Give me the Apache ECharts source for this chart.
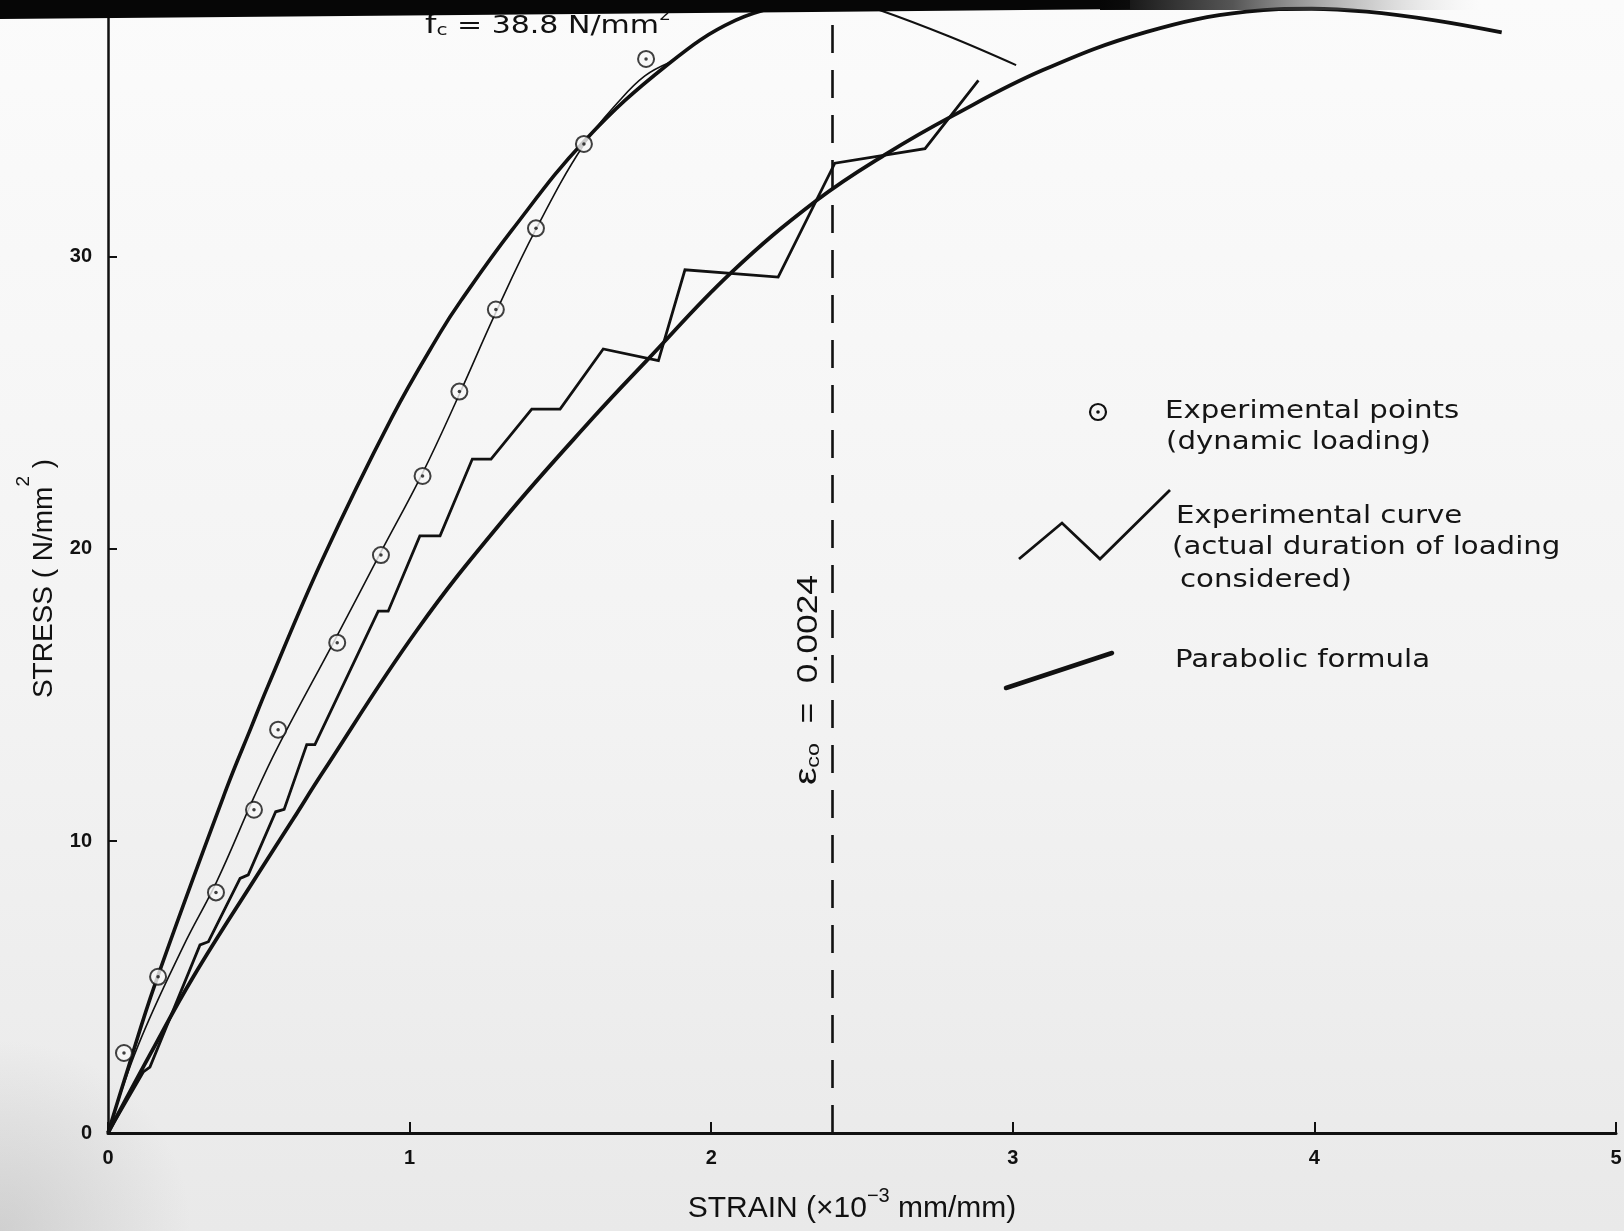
<!DOCTYPE html>
<html>
<head>
<meta charset="utf-8">
<script src="https://cdn.jsdelivr.net/npm/echarts@6/dist/echarts.min.js"></script>
<style>
html,body{margin:0;padding:0;background:#f3f3f3;}
#chart{width:1624px;height:1231px;}
</style>
</head>
<body>
<div id="chart"></div>
<script>
// ---- axis ticks / constants ----
const strainTicks = [0, 1, 2, 3, 4, 5];          // strain x 10^-3
const stressTicks = [0, 10, 20, 30];             // N/mm^2
const strainMax = 5;
const stressMax = 38.8;                          // f_c
const epsCo = 2.4;                               // 0.0024

// ---- experimental points (dynamic loading) ----
const expPoints = [[0.053,2.74],[0.166,5.35],[0.358,8.24],[0.484,11.07],[0.564,13.81],[0.760,16.79],[0.905,19.79],[1.043,22.50],[1.165,25.39],[1.286,28.20],[1.419,30.98],[1.578,33.87],[1.784,36.78]];

// ---- thin curve drawn through the experimental points ----
const expFitCurve = [[0,0],[0.1,3.0],[0.25,6.4],[0.36,8.6],[0.484,11.5],[0.562,13.2],[0.758,17.0],[0.905,19.9],[1.043,22.6],[1.165,25.3],[1.286,28.1],[1.419,30.95],[1.578,33.85],[1.70,35.4],[1.78,36.2],[1.86,36.65]];

// ---- experimental curve (actual duration of loading considered) ----
const expCurve = [[0,0],[0.117,2.09],[0.139,2.26],[0.305,6.44],[0.333,6.55],[0.438,8.72],[0.465,8.84],[0.556,11.0],[0.584,11.08],[0.659,13.30],[0.686,13.30],[0.896,17.87],[0.929,17.87],[1.034,20.45],[1.101,20.45],[1.208,23.08],[1.27,23.08],[1.405,24.79],[1.499,24.79],[1.642,26.85],[1.825,26.45],[1.913,29.56],[2.222,29.31],[2.410,33.21],[2.709,33.71],[2.886,36.05]];

// ---- parabolic formula curves ----
const parabolaUpper = [[0,0],[0.06,2.0],[0.156,5.1],[0.393,11.8],[0.475,13.9],[0.526,15.2],[0.709,19.6],[0.941,24.5],[1.101,27.4],[1.17,28.5],[1.338,30.9],[1.582,34.0],[1.857,36.6],[2.08,38.1],[2.3,38.75]];
const parabolaUpperTail = [[2.3,38.75],[2.45,38.78],[2.56,38.45],[2.79,37.55],[3.011,36.57]];
const parabolaLower = [[0,0],[0.14,2.7],[0.283,5.35],[0.493,8.8],[0.614,10.75],[0.709,12.3],[1.023,17.2],[1.311,21.0],[1.609,24.5],[1.786,26.45],[2.062,29.42],[2.35,31.94],[2.582,33.54],[2.803,34.85],[3.1,36.4],[3.444,37.71],[3.775,38.4],[3.99,38.5],[4.173,38.4],[4.394,38.11],[4.621,37.69]];

const INK = '#111111';
const chart = echarts.init(document.getElementById('chart'), null, {renderer: 'canvas'});

const legendFont = {fontFamily: '"DejaVu Sans", sans-serif', fontSize: 25, fill: '#151515'};
function legendText(txt, x, y) {
  return {type: 'text', x: x, y: y, scaleX: 1.17, z: 50, silent: true,
    style: Object.assign({text: txt, textAlign: 'left', textVerticalAlign: 'middle'}, legendFont)};
}
const LIB = '"Liberation Sans", Arial, sans-serif';

const option = {
  animation: false,
  backgroundColor: '#f3f3f3',
  grid: {left: 108, right: 8, top: 0, bottom: 98, containLabel: false, outerBoundsMode: 'none'},
  xAxis: {
    type: 'value', min: 0, max: strainMax, interval: 1,
    axisLine: {show: true, onZero: false, lineStyle: {color: INK, width: 3}},
    axisTick: {show: true, inside: true, length: 11, lineStyle: {color: INK, width: 2}, customValues: strainTicks},
    axisLabel: {show: true, margin: 15, fontSize: 20, fontWeight: 'bold', fontFamily: LIB, color: INK, customValues: strainTicks},
    splitLine: {show: false},
    name: '{a|STRAIN (×10}{s|−3}{a| mm/mm)}',
    nameLocation: 'middle', nameGap: 53,
    nameTextStyle: {padding: [0, 20, 0, 0], rich: {
      a: {fontSize: 30, fontFamily: LIB, color: INK, lineHeight: 38, verticalAlign: 'bottom'},
      s: {fontSize: 20, fontFamily: LIB, color: INK, lineHeight: 20, verticalAlign: 'top'}
    }}
  },
  yAxis: {
    type: 'value', min: 0, max: stressMax, interval: 10,
    axisLine: {show: true, onZero: false, lineStyle: {color: INK, width: 2.5}},
    axisTick: {show: true, inside: true, length: 9, lineStyle: {color: INK, width: 2}, customValues: stressTicks},
    axisLabel: {show: true, margin: 16, fontSize: 20, fontWeight: 'bold', fontFamily: LIB, color: INK, customValues: stressTicks,
      formatter: v => (stressTicks.indexOf(v) >= 0 ? String(v) : '')},
    splitLine: {show: false},
    name: '{a|STRESS ( N/mm}{s|2}{a| )}',
    nameLocation: 'middle', nameRotate: 90, nameGap: 50,
    nameTextStyle: {padding: [0, 24, 0, 0], rich: {
      a: {fontSize: 28, fontFamily: LIB, color: INK, lineHeight: 44, verticalAlign: 'bottom'},
      s: {fontSize: 19, fontFamily: LIB, color: INK, lineHeight: 19, verticalAlign: 'top'}
    }}
  },
  series: [
    {name: 'Parabolic formula (upper)', type: 'line', data: parabolaUpper, showSymbol: false, smooth: 0.4,
      lineStyle: {color: INK, width: 3.6}, z: 3, silent: true},
    {name: 'Parabolic formula (upper, descending)', type: 'line', data: parabolaUpperTail, showSymbol: false, smooth: 0.4,
      lineStyle: {color: INK, width: 2}, z: 3, silent: true},
    {name: 'Parabolic formula', type: 'line', data: parabolaLower, showSymbol: false, smooth: 0.4,
      lineStyle: {color: INK, width: 3.8}, z: 3, silent: true,
      markLine: {silent: true, symbol: ['none', 'none'], label: {show: false},
        lineStyle: {color: INK, width: 2.6, type: [28, 17]},
        data: [{xAxis: epsCo}]}},
    {name: 'Experimental curve', type: 'line', data: expCurve, showSymbol: false, smooth: false,
      lineStyle: {color: INK, width: 2.8, join: 'miter'}, z: 4, silent: true},
    {name: 'Experimental points fit', type: 'line', data: expFitCurve, showSymbol: false, smooth: 0.4,
      lineStyle: {color: INK, width: 1.6}, z: 4, silent: true},
    {name: 'Experimental points', type: 'scatter', data: expPoints, symbol: 'circle', symbolSize: 16,
      itemStyle: {color: '#f8f8f8', borderColor: INK, borderWidth: 2}, z: 6, silent: true},
    {name: 'Experimental points (centre)', type: 'scatter', data: expPoints, symbol: 'circle', symbolSize: 3.5,
      itemStyle: {color: INK}, z: 7, silent: true}
  ],
  graphic: {elements: [
    // paper background
    {type: 'rect', z: -100, silent: true, shape: {x: 0, y: 0, width: 1624, height: 1231},
      style: {fill: {type: 'linear', x: 0, y: 0, x2: 0, y2: 1, colorStops: [
        {offset: 0, color: '#fbfbfb'}, {offset: 0.55, color: '#f3f3f3'}, {offset: 1, color: '#e9e9e9'}]}}},
    {type: 'rect', z: -99, silent: true, shape: {x: 0, y: 1040, width: 260, height: 191},
      style: {fill: {type: 'radial', x: 0, y: 1, r: 1, colorStops: [
        {offset: 0, color: 'rgba(160,160,160,0.35)'}, {offset: 1, color: 'rgba(160,160,160,0)'}]}}},
    // annotation f_c
    {type: 'text', x: 425, y: 24, scaleX: 1.25, z: 40, silent: true,
      style: {text: '{f|f}{c|c}{t| = 38.8 N/mm}{s|2}', textAlign: 'left', textVerticalAlign: 'middle',
        rich: {
          f: {fontSize: 26, fontFamily: '"DejaVu Sans", sans-serif', fill: INK, lineHeight: 30, verticalAlign: 'bottom'},
          c: {fontSize: 16, fontFamily: '"DejaVu Sans", sans-serif', fill: INK, lineHeight: 16, verticalAlign: 'bottom'},
          t: {fontSize: 24, fontFamily: '"DejaVu Sans", sans-serif', fill: INK, lineHeight: 30, verticalAlign: 'bottom'},
          s: {fontSize: 15, fontFamily: '"DejaVu Sans", sans-serif', fill: INK, lineHeight: 15, verticalAlign: 'top'}
        }}},
    // epsilon_co label along the dashed line
    {type: 'text', x: 806, y: 680, rotation: Math.PI / 2, scaleX: 1.22, z: 40, silent: true,
      style: {text: '{e|ε}{c|co}{t|  =  0.0024}', textAlign: 'center', textVerticalAlign: 'middle',
        rich: {
          e: {fontSize: 32, fontFamily: LIB, fill: INK, lineHeight: 34, verticalAlign: 'bottom'},
          c: {fontSize: 19, fontFamily: LIB, fill: INK, lineHeight: 19, verticalAlign: 'bottom'},
          t: {fontSize: 29, fontFamily: LIB, fill: INK, lineHeight: 34, verticalAlign: 'bottom'}
        }}},
    // legend: experimental points
    {type: 'circle', z: 50, silent: true, shape: {cx: 1098, cy: 412, r: 8}, style: {fill: 'none', stroke: INK, lineWidth: 2.2}},
    {type: 'circle', z: 50, silent: true, shape: {cx: 1098, cy: 412, r: 1.8}, style: {fill: INK}},
    legendText('Experimental points', 1165, 411),
    legendText('(dynamic loading)', 1166, 442),
    // legend: experimental curve
    {type: 'polyline', z: 50, silent: true, shape: {points: [[1019, 559], [1062, 523], [1100, 559], [1170, 490]]},
      style: {fill: 'none', stroke: INK, lineWidth: 2.8, lineJoin: 'miter'}},
    legendText('Experimental curve', 1176, 516),
    legendText('(actual duration of loading', 1172, 547),
    legendText('considered)', 1180, 580),
    // legend: parabolic formula
    {type: 'line', z: 50, silent: true, shape: {x1: 1006, y1: 688, x2: 1112, y2: 653},
      style: {stroke: INK, lineWidth: 4.5, lineCap: 'round'}},
    legendText('Parabolic formula', 1175, 660),
    // dark scan band along the top edge
    {type: 'polygon', z: 100, silent: true, shape: {points: [[0, 0], [1130, 0], [1130, 9], [812, 12], [0, 19]]},
      style: {fill: '#060606'}},
    {type: 'rect', z: 100, silent: true, shape: {x: 1100, y: 0, width: 380, height: 10},
      style: {fill: {type: 'linear', x: 0, y: 0, x2: 1, y2: 0, colorStops: [
        {offset: 0, color: 'rgba(6,6,6,1)'}, {offset: 0.35, color: 'rgba(30,30,30,0.75)'},
        {offset: 0.7, color: 'rgba(110,110,110,0.35)'}, {offset: 1, color: 'rgba(200,200,200,0)'}]}}}
  ]}
};

chart.setOption(option);
</script>
</body>
</html>
